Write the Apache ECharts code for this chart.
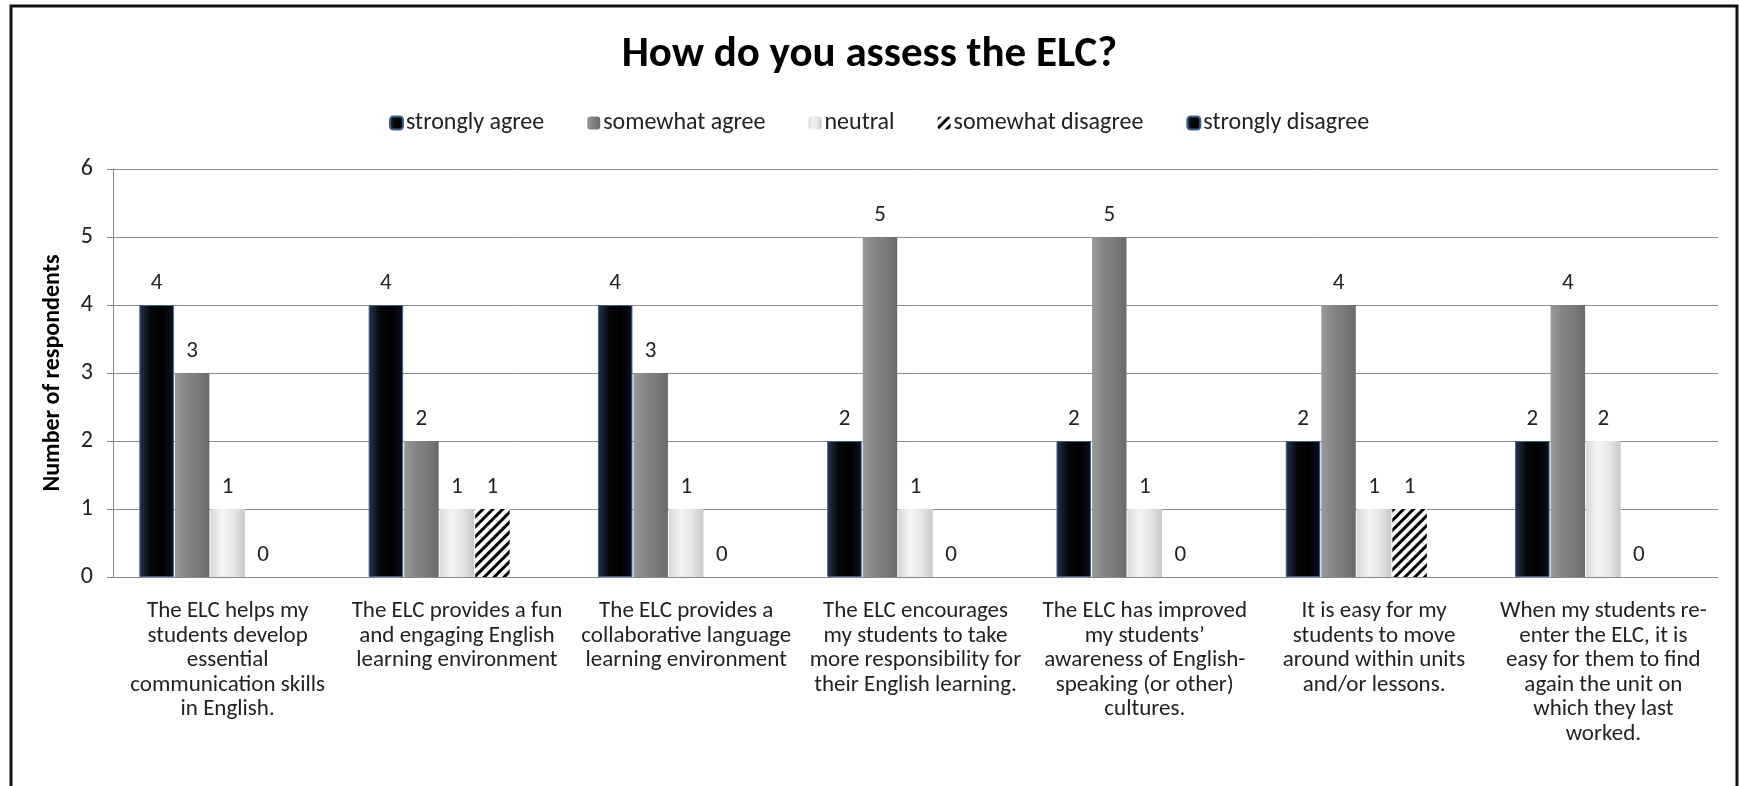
<!DOCTYPE html>
<html>
<head>
<meta charset="utf-8">
<script src="https://cdn.jsdelivr.net/npm/echarts@6/dist/echarts.min.js"></script>
<style>
  html, body { margin: 0; padding: 0; background: #fff; }
  #chart { width: 1739px; height: 786px; }
</style>
</head>
<body>
<div id="chart"></div>
<script>
// categories (line breaks as in the original)
const categories = [
  'The ELC helps my\nstudents develop\nessential\ncommunication skills\nin English.',
  'The ELC provides a fun\nand engaging English\nlearning environment',
  'The ELC provides a\ncollaborative language\nlearning environment',
  'The ELC encourages\nmy students to take\nmore responsibility for\ntheir English learning.',
  'The ELC has improved\nmy students’\nawareness of English-\nspeaking (or other)\ncultures.',
  'It is easy for my\nstudents to move\naround within units\nand/or lessons.',
  'When my students re-\nenter the ELC, it is\neasy for them to find\nagain the unit on\nwhich they last\nworked.'
];
const seriesNames = ['strongly agree', 'somewhat agree', 'neutral', 'somewhat disagree', 'strongly disagree'];
const stronglyAgree    = [4, 4, 4, 2, 2, 2, 2];
const somewhatAgree    = [3, 2, 3, 5, 5, 4, 4];
const neutral          = [1, 1, 1, 1, 1, 1, 2];
const somewhatDisagree = [0, 1, 0, 0, 0, 1, 0];
const stronglyDisagree = ['-', '-', '-', '-', '-', '-', '-'];
const yTicks = { min: 0, max: 6, interval: 1 };

const FONT = 'Carlito, Lato, sans-serif';

function hGrad(stops) {
  return new echarts.graphic.LinearGradient(0, 0, 1, 0,
    stops.map((c, i) => ({ offset: i / (stops.length - 1), color: c })));
}

const styles = [
  { color: hGrad(['#24344c', '#05070a', '#000000', '#0b1220']), borderColor: '#3d5f8f', borderWidth: 1 },
  { color: hGrad(['#9a9a9a', '#858585', '#7a7a7a', '#6a6a6a']) },
  { color: hGrad(['#d8d8d8', '#f4f4f4', '#e6e6e6', '#c8c8c8']) },
  { color: '#ffffff',
    decal: { symbol: 'rect', symbolSize: 1, color: '#000', backgroundColor: '#fff',
             dashArrayX: [1, 0], dashArrayY: [3, 4], rotation: -Math.PI / 4 } },
  { color: hGrad(['#24344c', '#05070a', '#000000', '#0b1220']), borderColor: '#3d5f8f', borderWidth: 1 }
];

const allData = [stronglyAgree, somewhatAgree, neutral, somewhatDisagree, stronglyDisagree];

const chart = echarts.init(document.getElementById('chart'));
chart.setOption({
  animation: false,
  backgroundColor: '#fff',
  textStyle: { fontFamily: FONT },
  title: {
    text: 'How do you assess the ELC?',
    left: 'center', top: 29,
    textStyle: { fontFamily: FONT, fontSize: 43, fontWeight: 'bold', color: '#000' }
  },
  legend: {
    data: seriesNames,
    top: 106, left: 384,
    itemWidth: 13, itemHeight: 13, itemGap: 43,
    textStyle: { fontFamily: FONT, fontSize: 24, color: '#222', padding: [0, 0, 0, -2] }
  },
  grid: { left: 113, right: 21, top: 169, bottom: 209 },
  xAxis: {
    type: 'category',
    data: categories,
    axisTick: { show: false },
    axisLine: { lineStyle: { color: '#888', width: 1 } },
    axisLabel: { interval: 0, margin: 22, fontFamily: FONT, fontSize: 23, lineHeight: 24.5, color: '#222' }
  },
  yAxis: {
    type: 'value',
    min: yTicks.min, max: yTicks.max, interval: yTicks.interval,
    name: 'Number of respondents',
    nameLocation: 'middle', nameGap: 48,
    nameTextStyle: { fontFamily: FONT, fontSize: 24, fontWeight: 'bold', color: '#000' },
    axisLine: { show: true, lineStyle: { color: '#888' } },
    axisTick: { show: true, inside: false, length: 6, lineStyle: { color: '#888' } },
    axisLabel: { margin: 20, fontFamily: FONT, fontSize: 24, color: '#222' },
    splitLine: { lineStyle: { color: '#8c8c8c', width: 1 } }
  },
  graphic: [{
    type: 'rect', silent: true,
    shape: { x: 11, y: 6, width: 1726, height: 800 },
    style: { fill: 'none', stroke: '#111', lineWidth: 3 }
  }],
  series: seriesNames.map((name, i) => ({
    name, type: 'bar',
    data: allData[i],
    barGap: '3%', barCategoryGap: '23%',
    itemStyle: styles[i],
    label: { show: true, position: 'top', distance: 10, fontFamily: FONT, fontSize: 23, color: '#222' }
  }))
});
</script>
</body>
</html>
